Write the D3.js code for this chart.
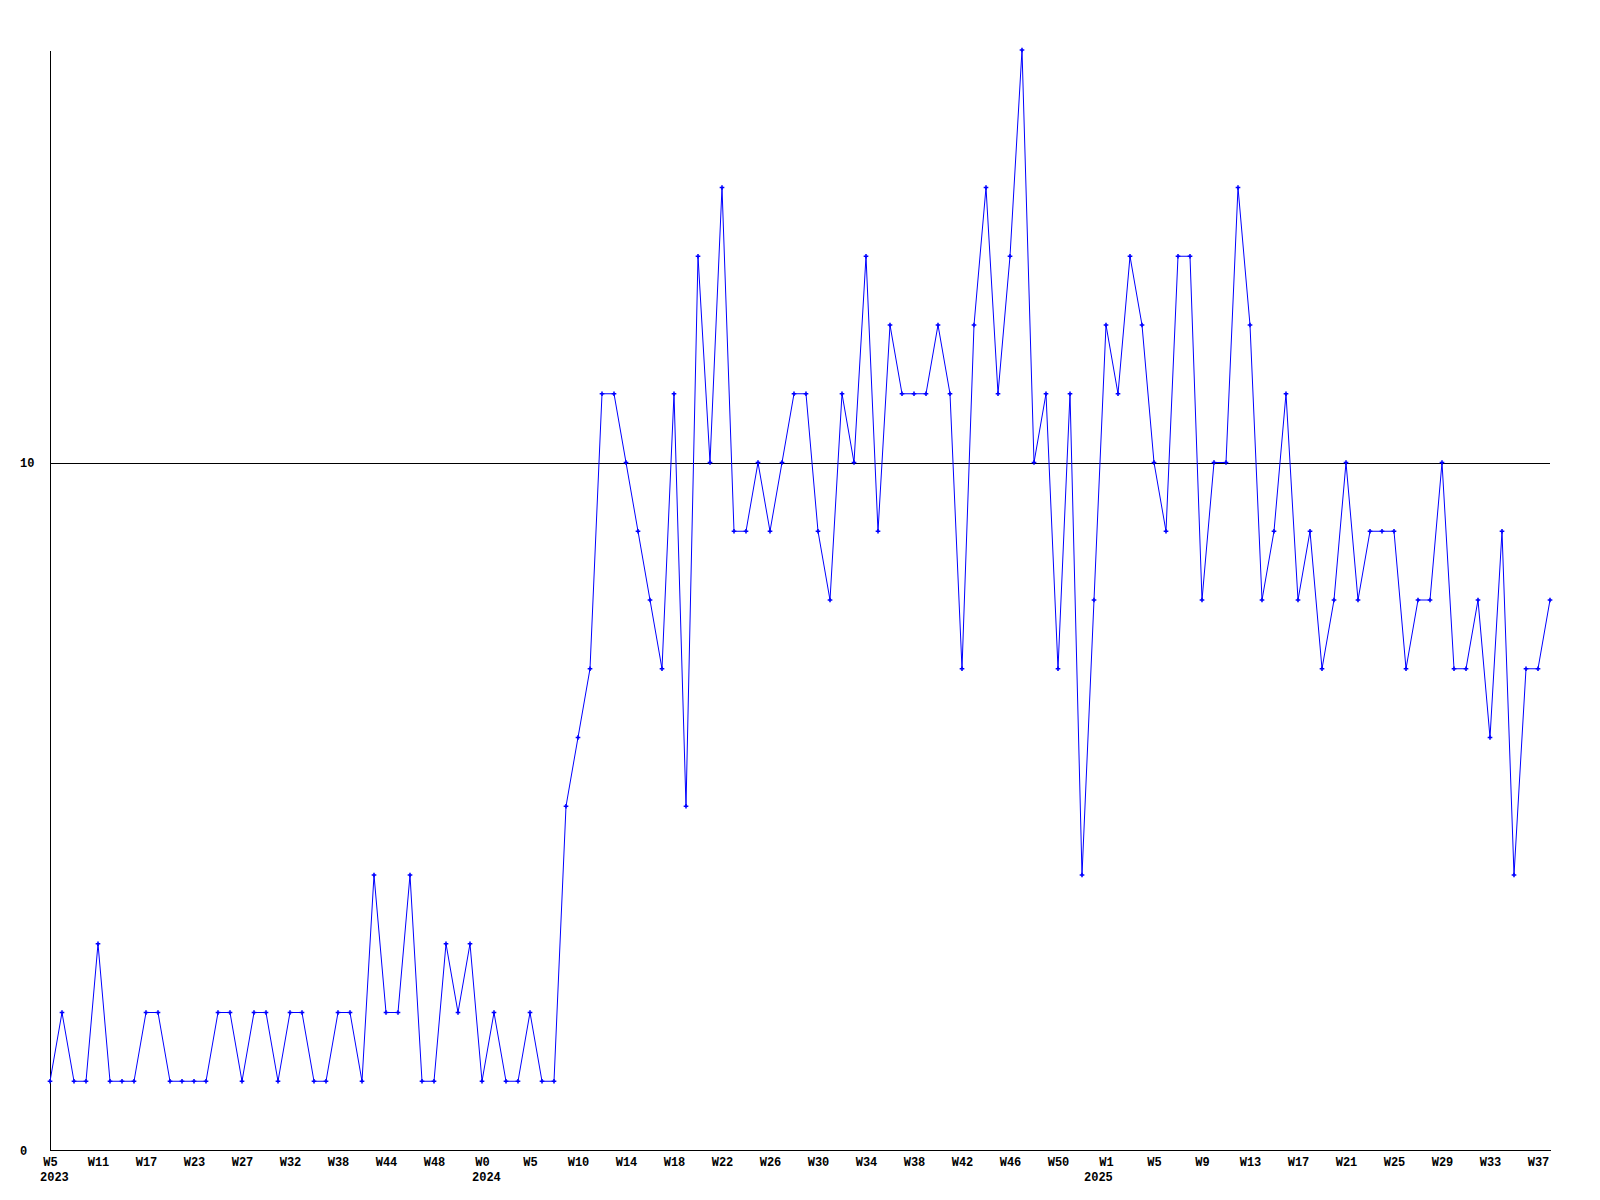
<!DOCTYPE html>
<html>
<head>
<meta charset="utf-8">
<script src="https://cdn.jsdelivr.net/npm/d3@7"></script>
<style>
	body { margin: 0; background: #fff; }
	.axis text { font-family: "Liberation Mono", "DejaVu Sans Mono", monospace; font-size: 12px; font-weight: bold; fill: #000; }
	.year { font-family: "Liberation Mono", "DejaVu Sans Mono", monospace; font-size: 12px; font-weight: bold; fill: #000; }
</style>
</head>
<body>
<div id="chart"></div>
<script>
// one value per week, oldest first
var values = [
	1, 2, 1, 1, 3, 1, 1, 1, 2, 2, 1, 1, 1, 1, 2, 2, 1, 2, 2, 1,
	2, 2, 1, 1, 2, 2, 1, 4, 2, 2, 4, 1, 1, 3, 2, 3, 1, 2, 1, 1,
	2, 1, 1, 5, 6, 7, 11, 11, 10, 9, 8, 7, 11, 5, 13, 10, 14, 9, 9, 10,
	9, 10, 11, 11, 9, 8, 11, 10, 13, 9, 12, 11, 11, 11, 12, 11, 7, 12, 14, 11,
	13, 16, 10, 11, 7, 11, 4, 8, 12, 11, 13, 12, 10, 9, 13, 13, 8, 10, 10, 14,
	12, 8, 9, 11, 8, 9, 7, 8, 10, 8, 9, 9, 9, 7, 8, 8, 10, 7, 7, 8,
	6, 9, 4, 7, 7, 8
];

// a label under every 4th point
var tickLabels = ["W5", "W11", "W17", "W23", "W27", "W32", "W38", "W44", "W48",
	"W0", "W5", "W10", "W14", "W18", "W22", "W26", "W30", "W34", "W38", "W42", "W46", "W50",
	"W1", "W5", "W9", "W13", "W17", "W21", "W25", "W29", "W33", "W37"];
var tickStep = 4;

// first point of each year
var yearIdx = [0, 36, 87];
var yearLabels = ["2023", "2024", "2025"];

var yTicks = [0, 10];

var width = 1600, height = 1200;
var padding = {top: 50, bottom: 50, left: 50, right: 50};

var svg = d3.select("#chart").append("svg").attr("width", width).attr("height", height);

var x = d3.scaleLinear().domain([0, values.length - 1]).range([padding.left, width - padding.right]);
var y = d3.scaleLinear().domain([0, 16]).range([height - padding.bottom, padding.top]);

// y axis with a reference line across the plot
var yAxis = d3.axisLeft(y).tickValues(yTicks).tickFormat(d3.format("d"))
	.tickSizeInner(-(width - padding.left - padding.right)).tickSizeOuter(0).tickPadding(0);
var gy = svg.append("g")
	.attr("class", "axis")
	.attr("transform", "translate(" + padding.left + ",0)")
	.call(yAxis);
gy.selectAll("path, line").attr("stroke", "#000").attr("shape-rendering", "crispEdges");
gy.selectAll("text").attr("text-anchor", "start").attr("x", 20 - padding.left).attr("dy", "0.35em");

// x axis, ticks by point index
var tickVals = d3.range(0, values.length, tickStep);
var xAxis = d3.axisBottom(x).tickValues(tickVals)
	.tickFormat(function(d, i){ return tickLabels[i]; })
	.tickSize(0).tickPadding(7);
var gx = svg.append("g")
	.attr("class", "axis")
	.attr("transform", "translate(0," + (height - padding.bottom) + ")")
	.call(xAxis);
gx.select("path").attr("stroke", "#000").attr("shape-rendering", "crispEdges");

// year labels, starting a little left of the year's first point
for (var k = 0; k < yearIdx.length; k++) {
	svg.append("text")
		.attr("class", "year")
		.attr("x", x(yearIdx[k]) - 10)
		.attr("y", height - padding.bottom + 31)
		.text(yearLabels[k]);
}

// the series
var line = d3.line()
	.x(function(d, i){ return x(i); })
	.y(function(d){ return y(d); });

svg.append("path")
	.datum(values)
	.attr("d", line)
	.attr("fill", "none")
	.attr("stroke", "#0000ff")
	.attr("stroke-width", 1);

svg.append("g")
	.selectAll("path")
	.data(values)
	.enter()
	.append("path")
	.attr("transform", function(d, i){ return "translate(" + x(i) + "," + y(d) + ")"; })
	.attr("d", d3.symbol().type(d3.symbolCross).size(12))
	.attr("fill", "#0000ff");
</script>
</body>
</html>
